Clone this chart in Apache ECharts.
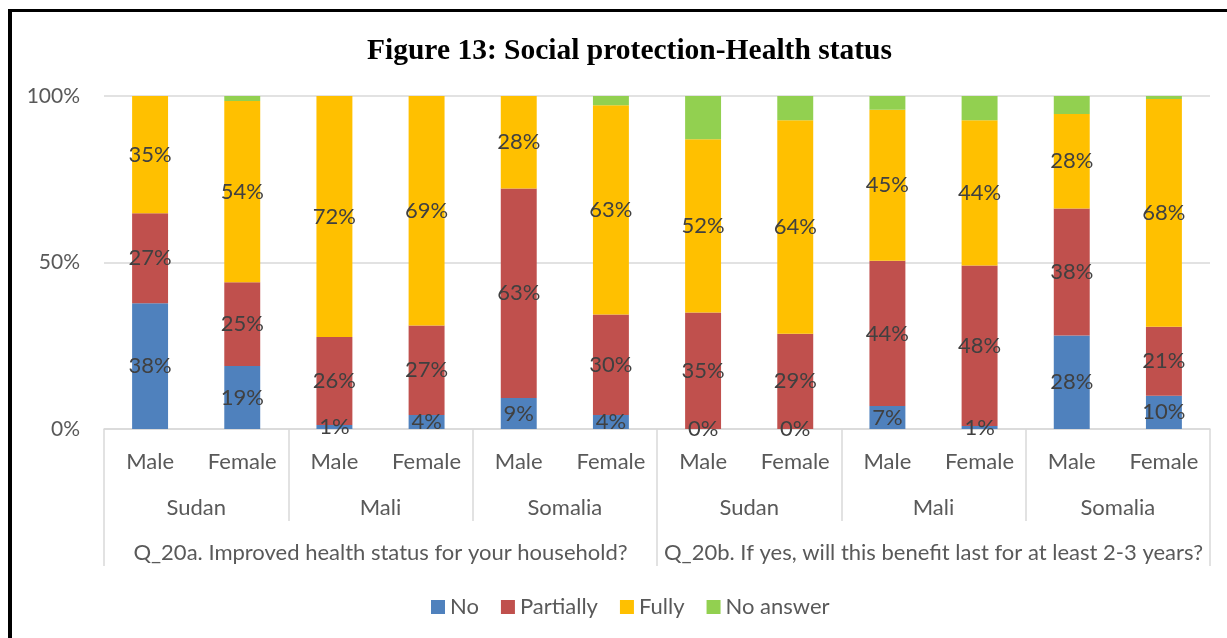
<!DOCTYPE html>
<html>
<head>
<meta charset="utf-8">
<script src="https://cdn.jsdelivr.net/npm/echarts@6/dist/echarts.min.js"></script>
<style>
  html, body { margin: 0; padding: 0; background: #ffffff; }
  #chart { width: 1227px; height: 638px; }
</style>
</head>
<body>
<div id="chart"></div>
<script>
// ---- data ----
const genders = ['Male', 'Female', 'Male', 'Female', 'Male', 'Female', 'Male', 'Female', 'Male', 'Female', 'Male', 'Female'];
const countries = ['Sudan', 'Mali', 'Somalia', 'Sudan', 'Mali', 'Somalia'];
const questions = ['Q_20a. Improved health status for your household?', 'Q_20b. If yes, will this benefit last for at least 2-3 years?'];
const seriesNames = ['No', 'Partially', 'Fully', 'No answer'];
const noVals       = [37.8, 18.9,  1.2,  4.2,  9.3,  4.2,  0.0,  0.0,  6.9,  0.9, 28.1, 10.0];
const partialVals  = [27.0, 25.2, 26.4, 26.9, 62.9, 30.2, 35.0, 28.6, 43.6, 48.2, 38.1, 20.7];
const fullyVals    = [35.2, 54.4, 72.4, 68.9, 27.8, 62.8, 52.0, 64.1, 45.4, 43.6, 28.4, 68.4];
const noAnswerVals = [ 0.0,  1.5,  0.0,  0.0,  0.0,  2.8, 13.0,  7.3,  4.1,  7.3,  5.4,  0.9];
const yTicks = [0, 50, 100];

const colors = ['#4f81bd', '#c0504d', '#ffc000', '#92d050'];
const FONT = 'Lato';

const chart = echarts.init(document.getElementById('chart'), null, { renderer: 'canvas' });

function makeSeries(name, data, color, showLabel) {
  return {
    name: name,
    type: 'bar',
    stack: 'total',
    data: data,
    barWidth: '39%',
    itemStyle: { color: color },
    label: {
      show: showLabel,
      position: 'inside',
      formatter: p => Math.round(p.value) + '%',
      color: '#404040',
      fontFamily: FONT,
      fontSize: 22
    },
    emphasis: { disabled: true }
  };
}

const option = {
  animation: false,
  backgroundColor: '#ffffff',
  title: {
    text: 'Figure 13: Social protection-Health status',
    left: 362,
    top: 31,
    textStyle: { fontFamily: 'Liberation Serif', fontWeight: 'bold', fontSize: 29.5, color: '#000000' }
  },
  legend: {
    data: seriesNames,
    left: 426,
    top: 591,
    itemWidth: 14,
    itemHeight: 14,
    itemGap: 22,
    icon: 'rect',
    textStyle: { fontFamily: FONT, fontSize: 22, color: '#595959' }
  },
  grid: { left: 104, right: 17, top: 96, bottom: 209, containLabel: false },
  xAxis: [
    {
      type: 'category',
      data: genders,
      position: 'bottom',
      axisLine: { show: true, lineStyle: { color: '#d9d9d9', width: 1.5 } },
      axisTick: { show: false },
      axisLabel: { interval: 0, margin: 22, fontFamily: FONT, fontSize: 22, color: '#595959' },
      splitLine: { show: false }
    },
    {
      type: 'category',
      data: countries,
      position: 'bottom',
      axisLine: { show: false },
      axisTick: { show: true, length: 92, alignWithLabel: false, interval: 0, lineStyle: { color: '#d9d9d9', width: 1.5 } },
      axisLabel: { interval: 0, margin: 68, fontFamily: FONT, fontSize: 22, color: '#595959' },
      splitLine: { show: false }
    },
    {
      type: 'category',
      data: questions,
      position: 'bottom',
      axisLine: { show: false },
      axisTick: { show: true, length: 137, alignWithLabel: false, interval: 0, lineStyle: { color: '#d9d9d9', width: 1.5 } },
      axisLabel: { interval: 0, margin: 113, fontFamily: FONT, fontSize: 22, color: '#595959' },
      splitLine: { show: false }
    }
  ],
  yAxis: {
    type: 'value',
    min: yTicks[0],
    max: yTicks[yTicks.length - 1],
    interval: yTicks[1] - yTicks[0],
    axisLine: { show: false },
    axisTick: { show: false },
    axisLabel: { formatter: '{value}%', margin: 24, fontFamily: FONT, fontSize: 21, color: '#595959' },
    splitLine: { show: true, lineStyle: { color: '#d9d9d9', width: 1.5 } }
  },
  series: [
    makeSeries(seriesNames[0], noVals, colors[0], true),
    makeSeries(seriesNames[1], partialVals, colors[1], true),
    makeSeries(seriesNames[2], fullyVals, colors[2], true),
    makeSeries(seriesNames[3], noAnswerVals, colors[3], false)
  ],
  graphic: [
    { type: 'line', shape: { x1: 10, y1: 9, x2: 10, y2: 638 }, style: { stroke: '#000000', lineWidth: 4 } },
    { type: 'line', shape: { x1: 8, y1: 10.5, x2: 1227, y2: 10.5 }, style: { stroke: '#000000', lineWidth: 3 } }
  ]
};

chart.setOption(option);
</script>
</body>
</html>
